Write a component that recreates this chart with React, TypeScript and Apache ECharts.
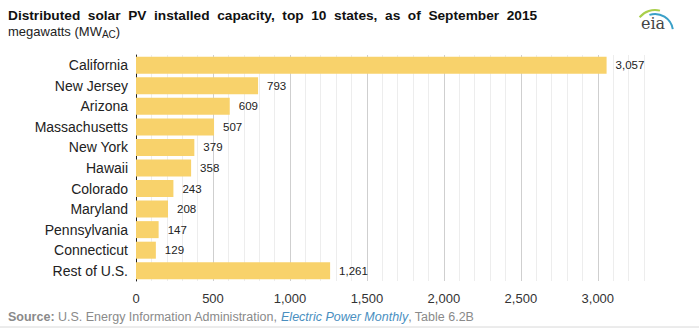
import React, { useEffect, useRef } from "react";
import * as echarts from "echarts";

const categories = [
  "California",
  "New Jersey",
  "Arizona",
  "Massachusetts",
  "New York",
  "Hawaii",
  "Colorado",
  "Maryland",
  "Pennsylvania",
  "Connecticut",
  "Rest of U.S.",
];
const values = [3057, 793, 609, 507, 379, 358, 243, 208, 147, 129, 1261];
const tickLabels = ["0", "500", "1,000", "1,500", "2,000", "2,500", "3,000"];

const fmt = (v: number) => v.toLocaleString("en-US");

export default function App() {
  const ref = useRef<HTMLDivElement>(null);
  useEffect(() => {
    if (!ref.current) return;
    const chart = echarts.init(ref.current, null, { renderer: "svg" });
    chart.setOption({
      animation: false,
      textStyle: { fontFamily: "Liberation Sans, Arial, sans-serif" },
      grid: { left: 136, right: 55, top: 55, bottom: 50, containLabel: false },
      xAxis: {
        type: "value",
        min: 0,
        max: 3300,
        interval: 100,
        axisLine: { show: false },
        axisTick: { show: false },
        axisLabel: {
          color: "#333",
          fontSize: 13,
          margin: 11,
          formatter: (v: number) => (v % 500 === 0 ? tickLabels[v / 500] ?? "" : ""),
        },
        splitLine: {
          show: true,
          lineStyle: {
            color: ["#cfcfcf", "#ededed", "#ededed", "#ededed", "#ededed"],
            width: 1,
          },
        },
      },
      yAxis: {
        type: "category",
        data: categories,
        inverse: true,
        axisLine: { show: true, lineStyle: { color: "#222", width: 1 } },
        axisTick: { show: false },
        axisLabel: { color: "#222", fontSize: 14, margin: 8 },
      },
      series: [
        {
          type: "bar",
          data: values,
          barWidth: 17,
          itemStyle: { color: "#f8d26b" },
          label: {
            show: true,
            position: "right",
            distance: 9,
            color: "#222",
            fontSize: 11.5,
            formatter: (p: any) => fmt(p.value),
          },
        },
      ],
      graphic: [
        {
          type: "text",
          left: 8,
          top: 8,
          style: {
            text: "Distributed  solar  PV  installed  capacity,  top  10  states,  as  of  September  2015",
            font: "bold 13.7px Liberation Sans, Arial, sans-serif",
            fill: "#111",
          },
        },
        {
          type: "text",
          left: 8,
          top: 25,
          style: {
            text: "megawatts (MW{sub|AC})",
            font: "13px Liberation Sans, Arial, sans-serif",
            fill: "#222",
            rich: {
              sub: { fontSize: 10, padding: [6, 0, 0, 0], fill: "#222" } as any,
            },
          },
        },
        {
          type: "text",
          left: 8,
          top: 310,
          style: {
            text: "{b|Source:} U.S. Energy Information Administration, {i|Electric Power Monthly}, Table 6.2B",
            font: "12.5px Liberation Sans, Arial, sans-serif",
            fill: "#8a8a8a",
            rich: {
              b: { fontWeight: "bold", fill: "#8a8a8a", fontSize: 12.5 } as any,
              i: { fontStyle: "italic", fill: "#4a8fbf", fontSize: 12.5 } as any,
            },
          },
        },
        {
          type: "line",
          shape: { x1: 0, y1: 327, x2: 699, y2: 327 },
          style: { stroke: "#d8d8d8", lineWidth: 1 },
        },
        {
          type: "arc",
          shape: { cx: 655, cy: 30, r: 20, startAngle: -Math.PI * 0.78, endAngle: -Math.PI * 0.42 },
          style: { stroke: "#a9cf4b", lineWidth: 2, fill: "none" },
        },
        {
          type: "arc",
          shape: { cx: 655, cy: 32, r: 18, startAngle: -Math.PI * 0.6, endAngle: -Math.PI * 0.05 },
          style: { stroke: "#3aa0c8", lineWidth: 2, fill: "none" },
        },
        {
          type: "text",
          left: 641,
          top: 15,
          style: {
            text: "eia",
            font: "16px DejaVu Serif, serif",
            fill: "#444",
          },
        },
      ],
    });
    return () => chart.dispose();
  }, []);
  return (
    <div
      ref={ref}
      style={{ position: "absolute", left: 0, top: 0, width: 699, height: 331 }}
    />
  );
}
